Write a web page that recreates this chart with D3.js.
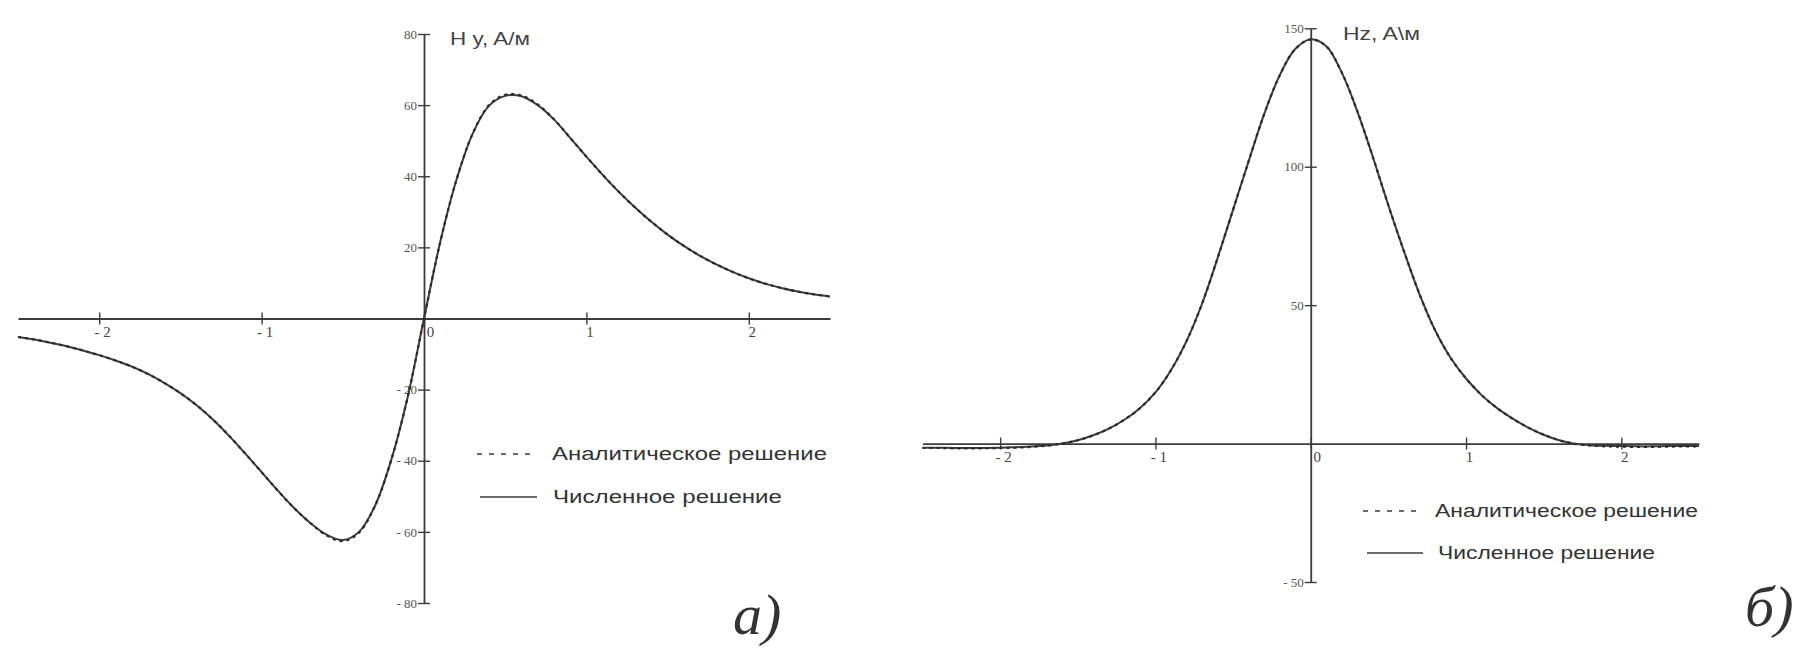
<!DOCTYPE html>
<html>
<head>
<meta charset="utf-8">
<script src="https://cdn.jsdelivr.net/npm/d3@7"></script>
<style>
  body { margin: 0; background: #fff; }
</style>
</head>
<body>
<svg id="fig" width="1797" height="648"></svg>
<script>
// x positions shared by both panels
let xValues = [-2.5,-2.4,-2.3,-2.2,-2.1,-2.0,-1.9,-1.8,-1.7,-1.6,-1.5,-1.4,-1.3,-1.2,-1.1,-1.0,-0.9,-0.8,-0.7,-0.6,-0.5,-0.4,-0.3,-0.2,-0.1,
  0,0.1,0.2,0.3,0.4,0.5,0.6,0.7,0.8,0.9,1.0,1.1,1.2,1.3,1.4,1.5,1.6,1.7,1.8,1.9,2.0,2.1,2.2,2.3,2.4,2.5];

// panel a) Hy, A/м
let hyAnalytic = [-5.2,-5.9,-6.8,-7.8,-9.0,-10.3,-11.8,-13.5,-15.6,-18.1,-21.0,-24.4,-28.4,-33.0,-38.0,-43.2,-48.4,-53.3,-57.5,-61.0,-62.6,-60.2,-52.5,-39.5,-22.0,
  0,21.5,39.0,52.0,60.0,62.9,62.7,60.2,56.0,50.8,45.5,40.4,35.6,31.2,27.2,23.6,20.4,17.6,15.2,13.1,11.3,9.8,8.6,7.6,6.8,6.2];
let hyNumeric = [-5.2,-5.9,-6.8,-7.8,-9.0,-10.3,-11.8,-13.5,-15.6,-18.1,-21.0,-24.4,-28.4,-33.0,-38.0,-43.2,-48.4,-53.3,-57.5,-60.8,-62.3,-60.0,-52.5,-39.5,-22.0,
  0,21.5,39.0,52.0,59.8,62.6,62.5,60.0,56.0,50.8,45.5,40.4,35.6,31.2,27.2,23.6,20.4,17.6,15.2,13.1,11.3,9.8,8.6,7.6,6.8,6.2];

// panel б) Hz, A\м
let hzAnalytic = [-1.6,-1.6,-1.7,-1.7,-1.7,-1.6,-1.5,-1.2,-0.8,0.0,1.2,3.0,5.4,8.6,12.8,18.5,26.5,37.0,50.5,67.0,84.5,102,119,133,142.5,
  146,143.5,134,120,103.5,86,69.5,54,41,31,23.5,17.5,12.8,9.0,5.8,3.2,1.2,-0.1,-0.7,-1.0,-1.1,-1.2,-1.2,-1.1,-1.0,-1.0];
let hzNumeric = [-1.5,-1.5,-1.6,-1.6,-1.6,-1.5,-1.3,-1.1,-0.7,0.0,1.2,3.0,5.4,8.6,12.8,18.5,26.5,37.0,50.5,67.0,84.5,102,119,133,142.5,
  146,143.5,134,120,103.5,86,69.5,54,41,31,23.5,17.5,12.8,9.0,5.8,3.2,1.2,-0.1,-0.6,-0.8,-0.9,-1.0,-1.0,-0.9,-0.9,-0.9];

let xTicks = [-2,-1,0,1,2];
let hyTicks = [-80,-60,-40,-20,20,40,60,80];
let hzTicks = [-50,50,100,150];
let legendLabels = ["Аналитическое решение", "Численное решение"];

let svg = d3.select("#fig");
let ink = "#3c3c3c";

function fmt(d){ // "- 20" style labels
    return d < 0 ? "- " + Math.abs(d) : String(d);
}

function drawPanel(p)
{
    let g = svg.append("g");
    let xScale = d3.scaleLinear().domain([-2.5,2.5]).range(p.xRange);
    let yScale = d3.scaleLinear().domain(p.yDomain).range(p.yRange);

    // x axis through zero
    let xAxis = d3.axisBottom(xScale).tickValues(xTicks).tickSize(6).tickSizeOuter(0).tickFormat(fmt);
    let gx = g.append("g")
        .attr("transform","translate(0,"+yScale(0)+")")
        .call(xAxis);
    gx.select(".domain").attr("stroke",ink).attr("stroke-width",1.8);
    gx.selectAll(".tick line").attr("y1",-6).attr("stroke",ink).attr("stroke-width",1.4);
    gx.selectAll(".tick text")
        .attr("font-family","Liberation Serif").attr("font-size",15).attr("fill","#444")
        .attr("y",8).attr("dx", d => d === 0 ? 6 : 3);

    // y axis through zero
    let yAxis = d3.axisLeft(yScale).tickValues(p.yTicks).tickSize(6).tickSizeOuter(0).tickFormat(fmt);
    let gy = g.append("g")
        .attr("transform","translate("+xScale(0)+",0)")
        .call(yAxis);
    gy.select(".domain").attr("stroke",ink).attr("stroke-width",1.8);
    gy.selectAll(".tick line").attr("x1",6).attr("stroke",ink).attr("stroke-width",1.4);
    gy.selectAll(".tick text")
        .attr("font-family","Liberation Serif").attr("font-size",13).attr("fill","#555")
        .attr("x",-7);

    let line = d3.line()
        .x((d,i) => xScale(xValues[i]))
        .y(d => yScale(d))
        .curve(d3.curveCatmullRom);

    g.append("path") // numeric solution
        .datum(p.numeric)
        .attr("d",line)
        .attr("fill","none").attr("stroke",ink).attr("stroke-width",2);
    g.append("path") // analytic solution
        .datum(p.analytic)
        .attr("d",line)
        .attr("fill","none").attr("stroke","#2a2a2a").attr("stroke-width",2.2)
        .attr("stroke-dasharray","3,4");

    // axis title
    g.append("text")
        .attr("x",p.title.x).attr("y",p.title.y)
        .attr("font-family","Liberation Sans").attr("font-size",19).attr("fill","#444")
        .attr("textLength",p.title.w).attr("lengthAdjust","spacingAndGlyphs")
        .text(p.title.text);

    // legend
    p.legend.forEach(function(l,i){
        g.append("line")
            .attr("x1",l.x1).attr("x2",l.x2).attr("y1",l.y).attr("y2",l.y)
            .attr("stroke",ink).attr("stroke-width",1.6)
            .attr("stroke-dasharray", i === 0 ? "5,7" : null);
        g.append("text")
            .attr("x",l.tx).attr("y",l.y).attr("dy","0.35em")
            .attr("font-family","Liberation Sans").attr("font-size",18).attr("fill","#333")
            .attr("textLength",l.tw).attr("lengthAdjust","spacingAndGlyphs")
            .text(legendLabels[i]);
    });

    // panel letter
    g.append("text")
        .attr("x",p.letter.x).attr("y",p.letter.y)
        .attr("font-family","Liberation Serif").attr("font-style","italic")
        .attr("font-size",58).attr("fill","#333")
        .text(p.letter.text);
}

drawPanel({
    xRange:[18,830], yDomain:[-80,80], yRange:[603,34], yTicks:hyTicks,
    numeric:hyNumeric, analytic:hyAnalytic,
    title:{x:450, y:45, w:80, text:"H y, A/м"},
    legend:[{x1:477,x2:535,y:454,tx:552,tw:275},{x1:480,x2:537,y:497,tx:553,tw:229}],
    letter:{x:733, y:634, text:"a)"}
});

drawPanel({
    xRange:[922.5,1699], yDomain:[-50,150], yRange:[582,28.3], yTicks:hzTicks,
    numeric:hzNumeric, analytic:hzAnalytic,
    title:{x:1343, y:40, w:77, text:"Hz, A\\м"},
    legend:[{x1:1363,x2:1420,y:511,tx:1435,tw:263},{x1:1367,x2:1423,y:553,tx:1438,tw:217}],
    letter:{x:1745, y:626, text:"б)"}
});
</script>
</body>
</html>
